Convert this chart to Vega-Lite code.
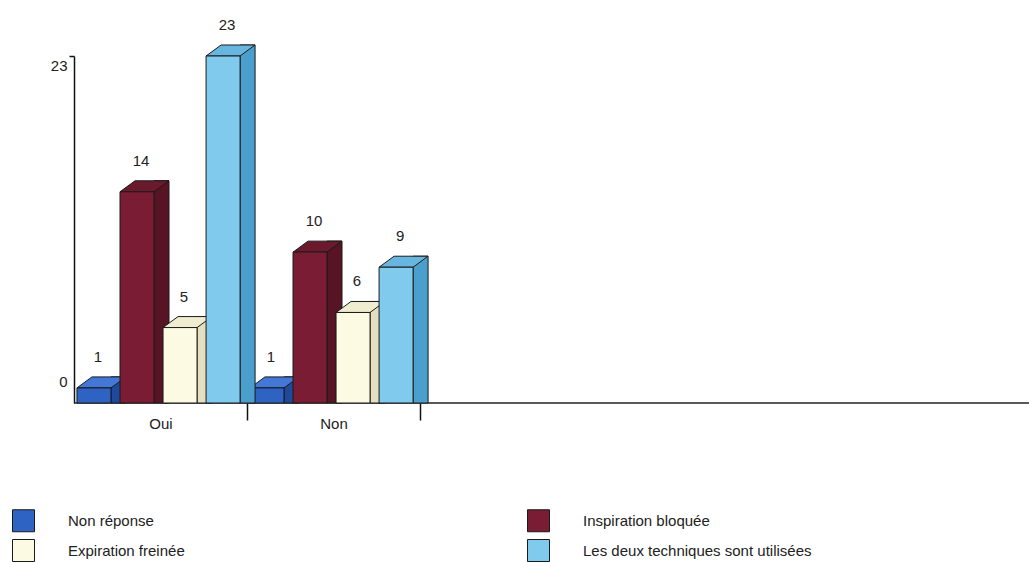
{
  "$schema": "https://vega.github.io/schema/vega-lite/v6.json",
  "width": 955,
  "height": 347,
  "autosize": {"type": "none"},
  "padding": {"left": 74, "top": 56, "right": 0, "bottom": 160},
  "background": "white",
  "config": {"view": {"stroke": null}, "font": "Liberation Sans"},
  "data": {"values": [
    {"g": "Oui", "s": "Non réponse", "v": 1},
    {"g": "Oui", "s": "Inspiration bloquée", "v": 14},
    {"g": "Oui", "s": "Expiration freinée", "v": 5},
    {"g": "Oui", "s": "Les deux techniques sont utilisées", "v": 23},
    {"g": "Non", "s": "Non réponse", "v": 1},
    {"g": "Non", "s": "Inspiration bloquée", "v": 10},
    {"g": "Non", "s": "Expiration freinée", "v": 6},
    {"g": "Non", "s": "Les deux techniques sont utilisées", "v": 9}
  ]},
  "layer": [
    {"data": {"values": [{"z": 0}]}, "mark": {"type": "rule", "stroke": "#222", "strokeWidth": 1.5}, "encoding": {"y": {"field": "z", "type": "quantitative"}}},
    {"encoding": {
      "x": {"field": "g", "type": "nominal", "sort": ["Oui", "Non"],
        "scale": {"range": [0, 346], "paddingInner": 0, "paddingOuter": 0},
        "axis": {"title": null, "labelAngle": 0, "domain": false, "tickBand": "extent", "tickSize": 17, "tickColor": "#111", "tickWidth": 1.5,
          "tickOpacity": {"condition": {"test": "datum.extra", "value": 0}, "value": 1},
          "labelFontSize": 15, "labelColor": "#222", "labelPadding": -4, "labelFont": "Liberation Sans"}},
      "xOffset": {"field": "s", "type": "nominal",
        "scale": {"type": "band", "domain": ["Non réponse", "Inspiration bloquée", "Expiration freinée", "Les deux techniques sont utilisées"], "paddingInner": 0.21, "paddingOuter": 0.115, "align": 0.3, "range": [0, 173]}},
      "y": {"field": "v", "type": "quantitative",
        "scale": {"domain": [0, 23], "nice": false},
        "axis": {"title": null, "values": [0, 23], "grid": false, "domainColor": "#111", "domainWidth": 1.5, "tickSize": 5, "tickColor": "#111", "tickWidth": 1.5,
          "tickOpacity": {"condition": {"test": "datum.value == 0", "value": 0}, "value": 1},
          "labelFontSize": 15, "labelColor": "#222", "labelPadding": 2, "labelFont": "Liberation Sans",
          "labelBaseline": {"condition": {"test": "datum.value == 0", "value": "bottom"}, "value": "top"},
          "labelOffset": {"condition": {"test": "datum.value == 0", "value": -14}, "value": 2}}}
    },
    "resolve": {"scale": {"xOffset": "independent"}},
    "layer": [
      {"transform": [{"filter": "datum.s == 'Non réponse'"}], "resolve": {"scale": {"xOffset": "independent"}}, "layer": [
        {"mark": {"type": "bar", "width": 15, "yOffset": -11, "color": "#1f4a9c", "stroke": "#1a1a1a", "strokeWidth": 1}, "encoding": {"y2": {"datum": 0}, "xOffset": {"field": "s", "type": "nominal", "scale": {"type": "band", "domain": ["Non réponse", "Inspiration bloquée", "Expiration freinée", "Les deux techniques sont utilisées"], "paddingInner": 0.21, "paddingOuter": 0.115, "align": 0.3, "range": [24.5, 197.5]}}}},
        {"mark": {"type": "point", "shape": "M-0.53125,0L0.53125,0L1,-0.34375L-0.0625,-0.34375Z", "size": 4096, "filled": true, "fill": "#4478d6", "opacity": 1, "stroke": "#1a1a1a", "strokeWidth": 1}},
        {"mark": {"type": "bar", "width": 34, "stroke": "#1a1a1a", "strokeWidth": 1}, "encoding": {"color": {"field": "s", "type": "nominal",
          "scale": {"domain": ["Non réponse", "Expiration freinée", "Inspiration bloquée", "Les deux techniques sont utilisées"], "range": ["#2e63c3", "#fdfae4", "#7a1c33", "#80caee"]},
          "legend": {"title": null, "orient": "none", "legendX": -62, "legendY": 453, "columns": 2, "symbolType": "square", "symbolSize": 484, "symbolStrokeColor": "#222", "symbolStrokeWidth": 1, "symbolOpacity": 1, "labelFontSize": 15, "labelFont": "Liberation Sans", "labelColor": "#222", "labelOffset": 33, "rowPadding": 3, "columnPadding": 340, "labelLimit": 400}}}}
      ]},
      {"transform": [{"filter": "datum.s == 'Inspiration bloquée'"}], "resolve": {"scale": {"xOffset": "independent"}}, "layer": [
        {"mark": {"type": "bar", "width": 15, "yOffset": -11, "color": "#561424", "stroke": "#1a1a1a", "strokeWidth": 1}, "encoding": {"y2": {"datum": 0}, "xOffset": {"field": "s", "type": "nominal", "scale": {"type": "band", "domain": ["Non réponse", "Inspiration bloquée", "Expiration freinée", "Les deux techniques sont utilisées"], "paddingInner": 0.21, "paddingOuter": 0.115, "align": 0.3, "range": [24.5, 197.5]}}}},
        {"mark": {"type": "point", "shape": "M-0.53125,0L0.53125,0L1,-0.34375L-0.0625,-0.34375Z", "size": 4096, "filled": true, "fill": "#6a1a2c", "opacity": 1, "stroke": "#1a1a1a", "strokeWidth": 1}},
        {"mark": {"type": "bar", "width": 34, "stroke": "#1a1a1a", "strokeWidth": 1}, "encoding": {"color": {"field": "s", "type": "nominal"}}}
      ]},
      {"transform": [{"filter": "datum.s == 'Expiration freinée'"}], "resolve": {"scale": {"xOffset": "independent"}}, "layer": [
        {"mark": {"type": "bar", "width": 15, "yOffset": -11, "color": "#e4dfbf", "stroke": "#1a1a1a", "strokeWidth": 1}, "encoding": {"y2": {"datum": 0}, "xOffset": {"field": "s", "type": "nominal", "scale": {"type": "band", "domain": ["Non réponse", "Inspiration bloquée", "Expiration freinée", "Les deux techniques sont utilisées"], "paddingInner": 0.21, "paddingOuter": 0.115, "align": 0.3, "range": [24.5, 197.5]}}}},
        {"mark": {"type": "point", "shape": "M-0.53125,0L0.53125,0L1,-0.34375L-0.0625,-0.34375Z", "size": 4096, "filled": true, "fill": "#f0ecd0", "opacity": 1, "stroke": "#1a1a1a", "strokeWidth": 1}},
        {"mark": {"type": "bar", "width": 34, "stroke": "#1a1a1a", "strokeWidth": 1}, "encoding": {"color": {"field": "s", "type": "nominal"}}}
      ]},
      {"transform": [{"filter": "datum.s == 'Les deux techniques sont utilisées'"}], "resolve": {"scale": {"xOffset": "independent"}}, "layer": [
        {"mark": {"type": "bar", "width": 15, "yOffset": -11, "color": "#4b9fcc", "stroke": "#1a1a1a", "strokeWidth": 1}, "encoding": {"y2": {"datum": 0}, "xOffset": {"field": "s", "type": "nominal", "scale": {"type": "band", "domain": ["Non réponse", "Inspiration bloquée", "Expiration freinée", "Les deux techniques sont utilisées"], "paddingInner": 0.21, "paddingOuter": 0.115, "align": 0.3, "range": [24.5, 197.5]}}}},
        {"mark": {"type": "point", "shape": "M-0.53125,0L0.53125,0L1,-0.34375L-0.0625,-0.34375Z", "size": 4096, "filled": true, "fill": "#66b6df", "opacity": 1, "stroke": "#1a1a1a", "strokeWidth": 1}},
        {"mark": {"type": "bar", "width": 34, "stroke": "#1a1a1a", "strokeWidth": 1}, "encoding": {"color": {"field": "s", "type": "nominal"}}}
      ]},
      {"mark": {"type": "text", "dx": 4, "dy": -31, "baseline": "middle", "fontSize": 15, "color": "#222", "font": "Liberation Sans"}, "encoding": {"text": {"field": "v"}}}
    ]}
  ]
}
